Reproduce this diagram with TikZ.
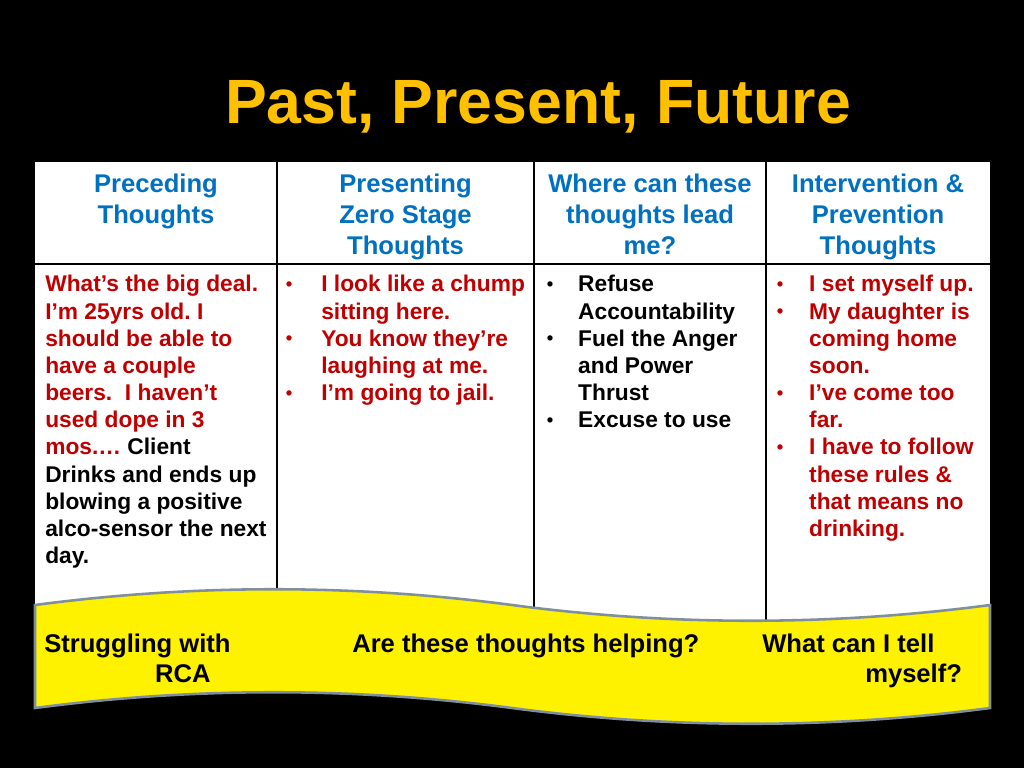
\documentclass[tikz,border=0pt]{standalone}
\usepackage{fontspec}
\setmainfont{Liberation Sans}
\usepackage{xcolor}
\usepackage{tikz}
\definecolor{titlegold}{HTML}{FFC000}
\definecolor{headblue}{HTML}{0070C0}
\definecolor{bodyred}{HTML}{C00000}
\definecolor{waveedge}{RGB}{127,143,160}
\frenchspacing

\begin{document}
\begin{tikzpicture}[x=0.703125pt,y=-0.703125pt,
		head/.style={inner sep=0pt,anchor=base,text=headblue,font=\fontsize{18}{21.5}\selectfont\bfseries},
		body/.style={inner sep=0pt,anchor=base west,font=\fontsize{16}{19.1}\selectfont\bfseries},
		banner/.style={inner sep=0pt,anchor=base west,font=\fontsize{18}{21.1}\selectfont\bfseries}]
		\def\bl{\raisebox{1pt}{\fontsize{13}{13}\selectfont\textbullet}}
		\useasboundingbox (0,0) rectangle (1024,768);
		\fill (0,0) rectangle (1024,768);
		% title
		\node[inner sep=0pt,anchor=base,text=titlegold,font=\fontsize{44}{52}\selectfont\bfseries]
			(title) at (538,124) {Past, Present, Future};
		% table
		\fill [white] (35,162) rectangle (990,640);
		\draw [line width=0.8pt] (35,264) -- (990,264);
		\foreach \cx in {277,534,766}
			\draw [line width=0.8pt] (\cx,162) -- (\cx,640);
		\node[head] (hpast) at (156,193) {\begin{tabular}[t]{@{}c@{}}Preceding\\Thoughts\end{tabular}};
		\node[head] (hpres) at (405.5,193) {\begin{tabular}[t]{@{}c@{}}Presenting\\Zero Stage\\Thoughts\end{tabular}};
		\node[head] (hlead) at (650,193) {\begin{tabular}[t]{@{}c@{}}Where can these\\thoughts lead\\me?\end{tabular}};
		\node[head] (hprev) at (878,193) {\begin{tabular}[t]{@{}c@{}}Intervention \&\\Prevention\\Thoughts\end{tabular}};
		\node[body,text=bodyred] (past) at (45,292) {\begin{tabular}[t]{@{}l@{}}
			What’s the big deal.\\
			I’m 25yrs old. I\\
			should be able to\\
			have a couple\\
			beers.~ I haven’t\\
			used dope in 3\\
			mos.… \textcolor{black}{Client}\\
			\color{black}Drinks and ends up\\
			\color{black}blowing a positive\\
			\color{black}alco-sensor the next\\
			\color{black}day.
		\end{tabular}};
		\node[body,text=bodyred] (pres) at (285.5,292) {\begin{tabular}[t]{@{}p{25pt}@{}l@{}}
			\bl & I look like a chump\\
			& sitting here.\\
			\bl & You know they’re\\
			& laughing at me.\\
			\bl & I’m going to jail.
		\end{tabular}};
		\node[body] (lead) at (546.5,292) {\begin{tabular}[t]{@{}p{22.1pt}@{}l@{}}
			\bl & Refuse\\
			& Accountability\\
			\bl & Fuel the Anger\\
			& and Power\\
			& Thrust\\
			\bl & Excuse to use
		\end{tabular}};
		\node[body,text=bodyred] (prev) at (776.5,292) {\begin{tabular}[t]{@{}p{22.8pt}@{}l@{}}
			\bl & I set myself up.\\
			\bl & My daughter is\\
			& coming home\\
			& soon.\\
			\bl & I’ve come too\\
			& far.\\
			\bl & I have to follow\\
			& these rules \&\\
			& that means no\\
			& drinking.
		\end{tabular}};
		% wave banner
		\filldraw [fill=yellow,draw=waveedge,line width=1.8pt]
			(35,605) .. controls (194,584) and (353,584) .. (512,605)
			.. controls (671,626) and (831,626) .. (990,605) -- (990,708)
			.. controls (831,729) and (671,729) .. (512,708)
			.. controls (353,687) and (194,687) .. (35,708) -- cycle;
		\node[banner] (strug) at (44,652) {\begin{tabular}[t]{@{}l@{}}Struggling with\\\hspace*{78pt}RCA\end{tabular}};
		\node[banner] (help) at (352,652) {Are these thoughts helping?};
		\node[banner] (tell) at (762,652) {\begin{tabular}[t]{@{}l@{}}What can I tell\\\hspace*{72.4pt}myself?\end{tabular}};
	\end{tikzpicture}
\end{document}
